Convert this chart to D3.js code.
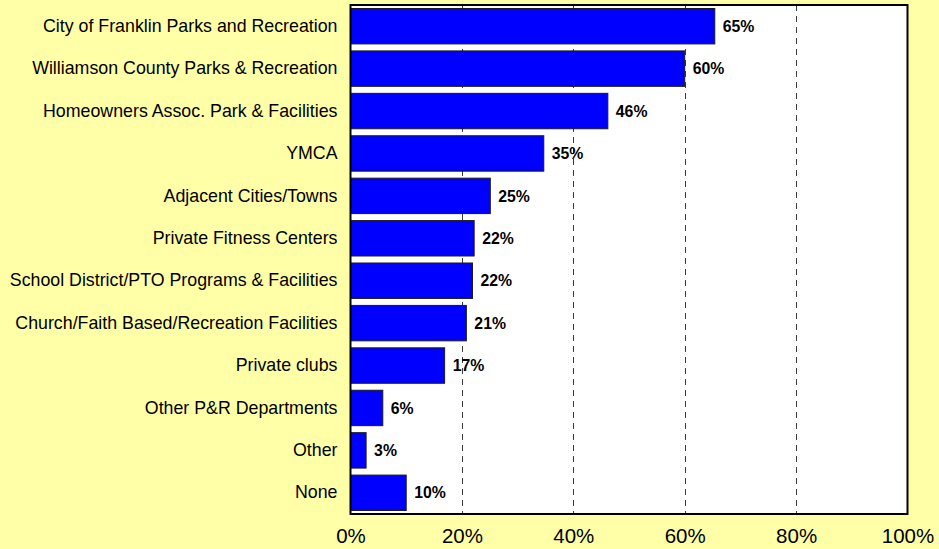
<!DOCTYPE html>
<html><head><meta charset="utf-8">
<script src="https://cdn.jsdelivr.net/npm/d3@7"></script>
<style>
html,body{margin:0;padding:0;background:#FFFFA8;}
svg{display:block;font-family:Arial,"Liberation Sans",sans-serif;}
</style></head>
<body>
<svg id="chart" width="939" height="549"></svg>
<script>
const categories = [
  "City of Franklin Parks and Recreation",
  "Williamson County Parks & Recreation",
  "Homeowners Assoc. Park & Facilities",
  "YMCA",
  "Adjacent Cities/Towns",
  "Private Fitness Centers",
  "School District/PTO Programs & Facilities",
  "Church/Faith Based/Recreation Facilities",
  "Private clubs",
  "Other P&R Departments",
  "Other",
  "None"
];
const values = [65.4, 60.0, 46.2, 34.7, 25.1, 22.2, 21.9, 20.8, 16.9, 5.8, 2.8, 10.0];
const tickValues = [0, 20, 40, 60, 80, 100];
const gridValues = [20, 40, 60, 80];

const svg = d3.select("#chart");
const pLeft = 350.5, pRight = 907.5, pTop = 5, pBottom = 514;

const x = d3.scaleLinear().domain([0, 100]).range([pLeft, pRight]);
const y = d3.scaleBand().domain(categories).range([pTop, pBottom]).paddingInner(0.165).paddingOuter(0.0825);

svg.append("rect").attr("width", 939).attr("height", 549).attr("fill", "#FFFFA8");
svg.append("rect").attr("x", pLeft).attr("y", pTop).attr("width", pRight - pLeft).attr("height", pBottom - pTop)
  .attr("fill", "#ffffff");

svg.append("g").selectAll("line").data(gridValues).join("line")
  .attr("x1", d => Math.round(x(d)) + 0.5).attr("x2", d => Math.round(x(d)) + 0.5)
  .attr("y1", pTop).attr("y2", pBottom)
  .attr("stroke", "#3a3a3a").attr("stroke-width", 1).attr("stroke-dasharray", "6,5");

svg.append("g").selectAll("rect").data(values).join("rect")
  .attr("x", x(0))
  .attr("y", (d, i) => y(categories[i]))
  .attr("width", d => x(d) - x(0))
  .attr("height", y.bandwidth())
  .attr("fill", "#0000FF")
  .attr("stroke", "#1a1a1a").attr("stroke-width", 1);

svg.append("g").selectAll("text").data(values).join("text")
  .attr("x", d => x(d) + 8)
  .attr("y", (d, i) => y(categories[i]) + y.bandwidth() / 2)
  .attr("dy", "0.36em")
  .attr("font-size", "15.8px").attr("font-weight", "bold").attr("fill", "#000")
  .text(d => Math.round(d) + "%");

svg.append("rect").attr("x", pLeft).attr("y", pTop).attr("width", pRight - pLeft).attr("height", pBottom - pTop)
  .attr("fill", "none").attr("stroke", "#000").attr("stroke-width", 2);

const yAxis = d3.axisLeft(y).tickSize(0).tickPadding(13);
const gy = svg.append("g").attr("transform", `translate(${pLeft},0)`).call(yAxis);
gy.select(".domain").remove();
gy.selectAll("text").attr("font-size", "17.8px").attr("fill", "#000").attr("font-family", "Arial, 'Liberation Sans', sans-serif");

const xAxis = d3.axisBottom(x).tickValues(tickValues).tickFormat(d => d + "%").tickSize(0).tickPadding(14);
const gx = svg.append("g").attr("transform", `translate(0,${pBottom})`).call(xAxis);
gx.select(".domain").remove();
gx.selectAll("text").attr("font-size", "20.5px").attr("fill", "#000").attr("font-family", "Arial, 'Liberation Sans', sans-serif");
</script>
</body></html>
